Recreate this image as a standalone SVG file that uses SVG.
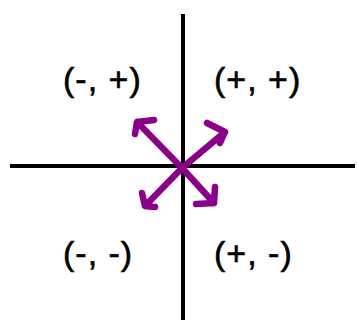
<svg xmlns="http://www.w3.org/2000/svg" width="357" height="320" viewBox="0 0 357 320">
<style>
.axis{stroke:#000;stroke-width:4;fill:none}
.arr{stroke:#8B008B;stroke-width:6.5;fill:none;stroke-linecap:round;stroke-linejoin:round}
.lbl{font-family:"Liberation Sans",Arial,sans-serif;font-size:34px;fill:#000;stroke:#000;stroke-width:0.6;letter-spacing:1px}
</style>
<rect width="357" height="320" fill="#fff"/>
<g id="connectors">
<line class="axis" x1="183" y1="14" x2="183" y2="320"/>
<line class="axis" x1="10" y1="166" x2="355" y2="166"/>
<g id="arrows">
<path class="arr" d="M182 168 L137 122 M154 120 L137 122 L135 134"/>
<path class="arr" d="M182 168 L225 132 M207 123 L225 132 L220 143"/>
<path class="arr" d="M182 168 L145 206 M142 193 L145 206 L155 207"/>
<path class="arr" d="M182 168 L214 203 M215 187 L214 203 L196 204"/>
</g>
</g>
<g id="q2"><text class="lbl" x="63" y="91">(-, +)</text></g>
<g id="q1"><text class="lbl" x="214" y="91">(+, +)</text></g>
<g id="q3"><text class="lbl" x="63" y="265">(-, -)</text></g>
<g id="q4"><text class="lbl" x="214" y="265">(+, -)</text></g>
</svg>
